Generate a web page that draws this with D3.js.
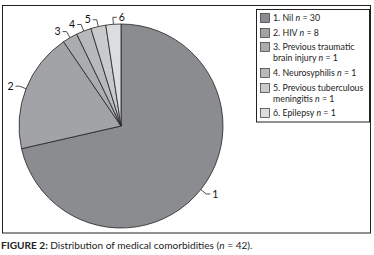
<!DOCTYPE html>
<html lang="en">
<head>
<meta charset="UTF-8">
<title>Medical comorbidities</title>
<script src="https://d3js.org/d3.v7.min.js"></script>
<style>
    body { margin: 0; background: #fff; }
    svg { display: block; }
</style>
</head>
<body>
<script>
    // data
    var labels = ["1", "2", "3", "4", "5", "6"];
    var names = ["Nil", "HIV", "Previous traumatic|brain injury", "Neurosyphilis", "Previous tuberculous|meningitis", "Epilepsy"];
    var counts = [30, 8, 1, 1, 1, 1];
    var colors = ["#8b8c8f", "#a2a3a6", "#abacaf", "#b8b9bc", "#c9cacc", "#dcdddf"];

    var w = 374, h = 255;
    var cx = 121, cy = 126, r = 102;

    var svg = d3.select("body").append("svg")
        .attr("width", w)
        .attr("height", h)
        .style("font-family", "Lato, 'Open Sans', sans-serif");

    // outer frame
    svg.append("rect")
        .attr("x", 2.5).attr("y", 5.5)
        .attr("width", 368).attr("height", 227.5)
        .attr("fill", "none")
        .attr("stroke", "#222")
        .attr("stroke-width", 1);

    var pie = d3.pie().sort(null).value(function(d){ return d; });
    var arcs = pie(counts);
    var arc = d3.arc().innerRadius(0).outerRadius(r);

    var g = svg.append("g").attr("transform", "translate(" + cx + "," + cy + ")");

    g.selectAll("path")
        .data(arcs)
        .enter()
        .append("path")
        .attr("d", arc)
        .attr("fill", function(d, i){ return colors[i]; })
        .attr("stroke", "#222")
        .attr("stroke-width", 0.8);

    // leader lines + slice numbers
    function pt(a, rad) { return [Math.sin(a) * rad, -Math.cos(a) * rad]; }

    arcs.forEach(function(d, i){
        var a = (d.startAngle + d.endAngle) / 2;
        var p0 = pt(a, r);
        var p1 = pt(a, r + 7);
        var dir = p1[0] > -r * 0.1 ? 1 : -1;
        var p2 = [p1[0] + dir * 4, p1[1]];
        g.append("path")
            .attr("d", d3.line()([p0, p1, p2]))
            .attr("fill", "none")
            .attr("stroke", "#222")
            .attr("stroke-width", 0.8);
        g.append("text")
            .attr("x", p2[0] + dir * 2)
            .attr("y", p2[1])
            .attr("dy", "0.35em")
            .attr("text-anchor", dir > 0 ? "start" : "end")
            .style("font-size", "10.5px")
            .style("fill", "#111")
            .text(labels[i]);
    });

    // legend
    var lg = svg.append("g");
    lg.append("rect")
        .attr("x", 256.5).attr("y", 9.5)
        .attr("width", 113).attr("height", 112.5)
        .attr("fill", "#fff")
        .attr("stroke", "#222")
        .attr("stroke-width", 1);

    var rowY = [18, 33, 47, 73, 88, 113];
    names.forEach(function(n, i){
        var lines = n.split("|");
        lg.append("rect")
            .attr("x", 260.5).attr("y", rowY[i] - 4.5)
            .attr("width", 9).attr("height", 9)
            .attr("fill", colors[i])
            .attr("stroke", "#333")
            .attr("stroke-width", 0.7);
        lines.forEach(function(t, j){
            var txt = lg.append("text")
                .attr("x", 273)
                .attr("y", rowY[i] + j * 11)
                .attr("dy", "0.35em")
                .style("font-size", "8.8px")
                .style("fill", "#222");
            var first = j === 0 ? labels[i] + ". " + t : t;
            txt.append("tspan").text(first);
            if (j === lines.length - 1) {
                txt.append("tspan").text(" ");
                txt.append("tspan").style("font-style", "italic").text("n");
                txt.append("tspan").text(" = " + counts[i]);
            }
        });
    });

    // caption
    var cap = svg.append("text")
        .attr("x", 1)
        .attr("y", 249)
        .style("font-size", "10.1px")
        .style("fill", "#222");
    cap.append("tspan").style("font-weight", "bold").text("FIGURE 2: ");
    cap.append("tspan").text("Distribution of medical comorbidities (");
    cap.append("tspan").style("font-style", "italic").text("n");
    cap.append("tspan").text(" = " + d3.sum(counts) + ").");
</script>
</body>
</html>
